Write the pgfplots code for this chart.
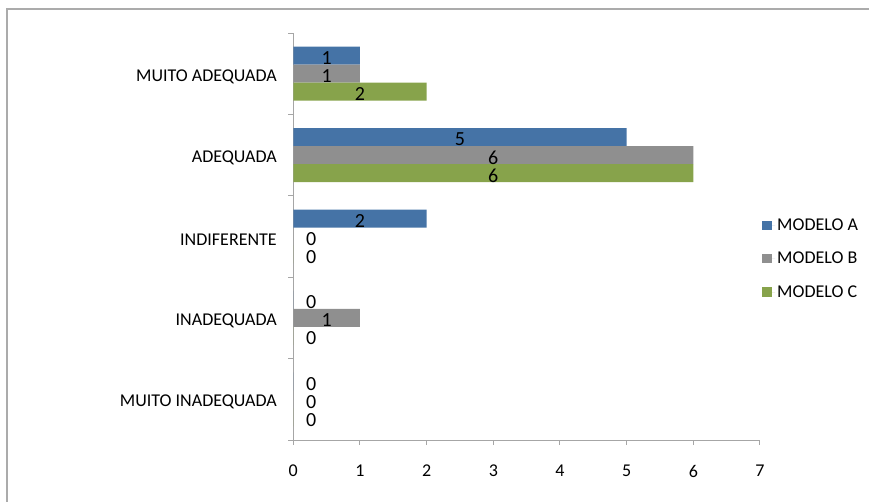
\documentclass[border=0pt]{standalone}
\usepackage{fontspec}
\setmainfont{Carlito}
\usepackage{pgfplots}
\usepackage{pgfplotstable}
\pgfplotsset{compat=1.18}
\pgfkeys{/pgf/number format/assume math mode=true}

\definecolor{modA}{HTML}{4573A6}
\definecolor{modB}{HTML}{8F8F8F}
\definecolor{modC}{HTML}{87A34B}
\definecolor{axisgray}{HTML}{A6A6A6}
\definecolor{framegray}{HTML}{ABABAB}

% y: 0 = MUITO INADEQUADA ... 4 = MUITO ADEQUADA
\pgfplotstableread{
y A B C
0 0 0 0
1 0 1 0
2 2 0 0
3 5 6 6
4 1 1 2
}\avaliacao

\newcommand{\lblfont}{\fontsize{18}{21}\selectfont}
\newcommand{\barfont}{\fontsize{20}{22}\selectfont}

\begin{document}
\begin{tikzpicture}
\path[use as bounding box] (-293.3pt,-61pt) rectangle (575.7pt,440pt);
\draw[framegray, line width=2pt] (-286.3pt,-70pt) -- (-286.3pt,430.5pt) -- (590pt,430.5pt);
\begin{axis}[
  scale only axis,
  width=466.7pt, height=407pt,
  xmin=0, xmax=7, ymin=-0.5, ymax=4.5,
  axis x line*=bottom, axis y line*=left,
  axis line style={axisgray, line width=1pt},
  tick style={axisgray, line width=1pt},
  tick align=outside,
  major tick length=5pt,
  xtick={0,...,7},
  xticklabel style={font=\lblfont, yshift=-16.5pt},
  ytick={-0.5,0.5,...,4.5},
  yticklabels={},
  extra y ticks={0,1,2,3,4},
  extra y tick labels={MUITO INADEQUADA,INADEQUADA,INDIFERENTE,ADEQUADA,MUITO ADEQUADA},
  extra y tick style={major tick length=0pt, yticklabel style={font=\lblfont, xshift=-13pt, yshift=-3pt}},
  legend style={at={(1.0043,0.445)}, anchor=west, draw=none, fill=none,
    font=\lblfont, row sep=16pt, inner sep=0pt},
  legend cell align=left,
  legend image code/.code={\path (0pt,0pt) -- (13pt,0pt);
    \fill[#1] (0pt,-4.5pt) rectangle (10pt,5pt);},
  nodes near coords style={font=\barfont, anchor=center, text=black, yshift=-2.5pt},
]
\addplot[xbar, bar width=0.221, bar shift=0, fill=modA, draw=none]
  table[x=A, y expr=\thisrow{y}+0.221] {\avaliacao};
\addlegendentry{MODELO A}
\addplot[xbar, bar width=0.221, bar shift=0, fill=modB, draw=none]
  table[x=B, y expr=\thisrow{y}] {\avaliacao};
\addlegendentry{MODELO B}
\addplot[xbar, bar width=0.221, bar shift=0, fill=modC, draw=none]
  table[x=C, y expr=\thisrow{y}-0.221] {\avaliacao};
\addlegendentry{MODELO C}

% value labels, centred in each bar
\addplot[forget plot, only marks, mark=none, nodes near coords, point meta=explicit]
  table[x expr={max(\thisrow{A}/2,0.27)}, y expr=\thisrow{y}+0.221, meta=A] {\avaliacao};
\addplot[forget plot, only marks, mark=none, nodes near coords, point meta=explicit]
  table[x expr={max(\thisrow{B}/2,0.27)}, y expr=\thisrow{y}, meta=B] {\avaliacao};
\addplot[forget plot, only marks, mark=none, nodes near coords, point meta=explicit]
  table[x expr={max(\thisrow{C}/2,0.27)}, y expr=\thisrow{y}-0.221, meta=C] {\avaliacao};
\end{axis}
\end{tikzpicture}
\end{document}
